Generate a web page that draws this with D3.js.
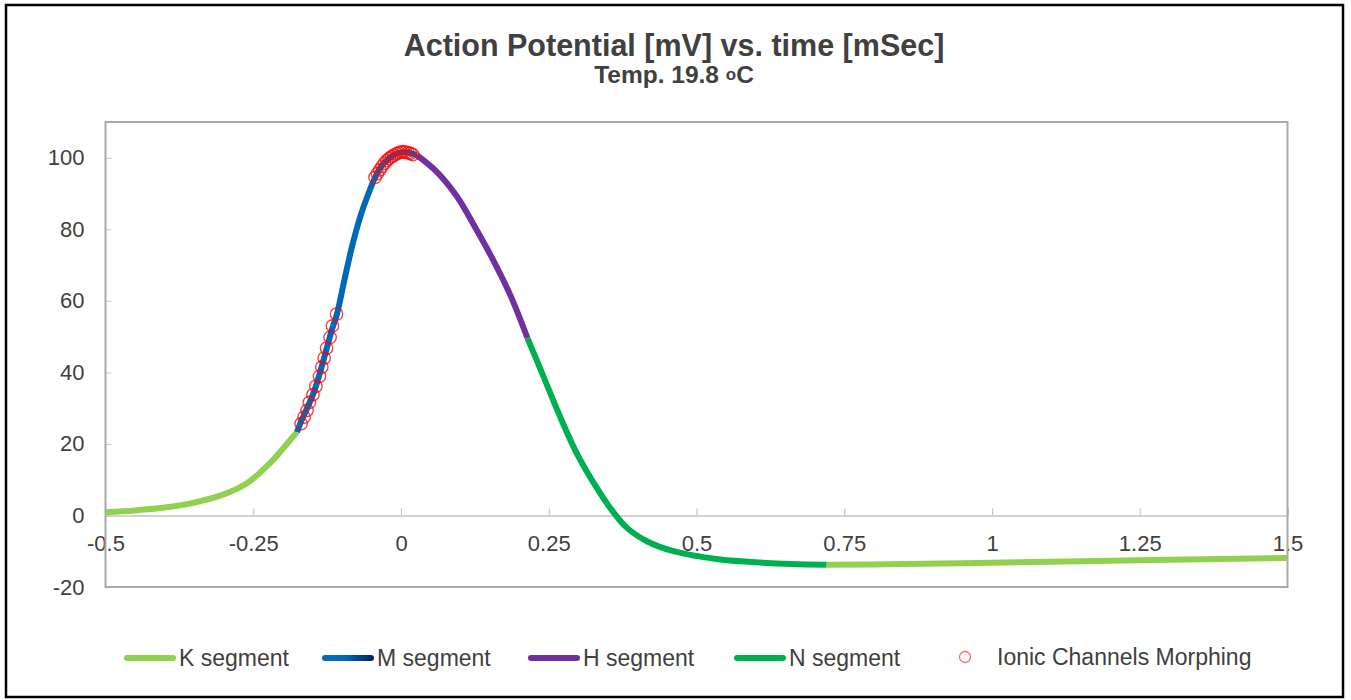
<!DOCTYPE html>
<html>
<head>
<meta charset="utf-8">
<script src="https://cdn.jsdelivr.net/npm/d3@7/dist/d3.min.js"></script>
<style>
  html, body { margin: 0; padding: 0; background: #ffffff; }
  svg { display: block; }
  text { font-family: "Liberation Sans", Arial, Helvetica, sans-serif; }
</style>
</head>
<body>
<svg id="chart" width="1351" height="700"></svg>
<script>
// Membrane potential trace, split into coloured segments (time in mSec, potential in mV)
const kRiseTime = [-0.5, -0.45, -0.40, -0.35, -0.30, -0.26, -0.22, -0.19, -0.176];
const kRiseVolt = [0.9, 1.4, 2.2, 3.6, 5.9, 9.1, 14.9, 20.6, 23.3];

const mRiseTime = [-0.176, -0.170, -0.148, -0.131, -0.117, -0.108, -0.097, -0.083, -0.069, -0.055, -0.0435, -0.0295, -0.0126, 0.004, 0.027];
const mRiseVolt = [23.3, 25.9, 34.2, 43.5, 51.9, 56.5, 64.9, 75.1, 83.5, 90.0, 94.6, 98.4, 100.7, 101.6, 100.7];

const hFallTime = [0.027, 0.061, 0.095, 0.128, 0.156, 0.185, 0.214];
const hFallVolt = [100.7, 96.0, 89.1, 79.8, 71.4, 61.6, 49.6];

const nFallTime = [0.214, 0.241, 0.269, 0.297, 0.326, 0.354, 0.382, 0.416, 0.461, 0.506, 0.540, 0.60, 0.66, 0.72];
const nFallVolt = [49.6, 38.9, 27.7, 17.5, 9.1, 2.1, -3.4, -7.2, -10.0, -11.5, -12.3, -13.1, -13.6, -13.8];

const kTailTime = [0.72, 0.85, 1.0, 1.15, 1.3, 1.5];
const kTailVolt = [-13.8, -13.6, -13.2, -12.8, -12.4, -11.9];

// Points where the ionic channels morph
const morphTime = [-0.169, -0.164, -0.159, -0.155, -0.149, -0.144, -0.138, -0.134, -0.130, -0.126, -0.120, -0.116, -0.109,
                   -0.044, -0.040, -0.036, -0.032, -0.028, -0.024, -0.020, -0.016, -0.012, -0.008, -0.004, 0.000, 0.004, 0.008, 0.012, 0.016, 0.020];
const morphVolt = [25.7, 27.5, 29.4, 31.6, 33.8, 36.1, 38.9, 41.5, 44.0, 46.8, 49.8, 53.0, 56.3,
                   94.5, 95.6, 96.6, 97.6, 98.5, 99.2, 99.8, 100.3, 100.7, 101.1, 101.4, 101.6, 101.7, 101.6, 101.4, 101.2, 100.9];

const xTicks = [-0.5, -0.25, 0, 0.25, 0.5, 0.75, 1, 1.25, 1.5];
const yTicks = [-20, 0, 20, 40, 60, 80, 100];

const segmentNames = ["K segment", "M segment", "H segment", "N segment"];
const morphName = "Ionic Channels Morphing";

const svg = d3.select("#chart");
const plot = { left: 105.5, right: 1287.5, top: 122, bottom: 587 };

const x = d3.scaleLinear().domain([-0.5, 1.5]).range([plot.left, plot.right]);
const y = d3.scaleLinear().domain([-20, 110]).range([plot.bottom, plot.top]);

// outer frame
svg.append("rect")
  .attr("x", 6).attr("y", 5).attr("width", 1337).attr("height", 692)
  .attr("fill", "#ffffff").attr("stroke", "#000000").attr("stroke-width", 2.5);

// titles
svg.append("text")
  .attr("x", 674).attr("y", 56)
  .attr("text-anchor", "middle")
  .attr("font-size", 30.5).attr("font-weight", "bold").attr("fill", "#404040")
  .text("Action Potential [mV] vs. time [mSec]");

const sub = svg.append("text")
  .attr("x", 674).attr("y", 83)
  .attr("text-anchor", "middle")
  .attr("font-size", 24.5).attr("font-weight", "bold").attr("fill", "#404040");
sub.append("tspan").text("Temp. 19.8 ");
sub.append("tspan").attr("font-size", 17).attr("dy", -3).text("o");
sub.append("tspan").attr("dy", 3).text("C");

// y axis (ticks inward, labels left)
const yAxis = d3.axisLeft(y).tickValues(yTicks).tickSize(-6).tickPadding(21).tickFormat(d => String(d));
const gy = svg.append("g").attr("transform", `translate(${plot.left},0)`).call(yAxis);
gy.select(".domain").remove();
gy.selectAll(".tick line").attr("stroke", "#d0d0d0").attr("stroke-width", 1.2);
gy.selectAll(".tick text").attr("font-size", 22).attr("fill", "#404040")
  .attr("font-family", "'Liberation Sans', Arial, sans-serif");

// x axis at 0 mV, ticks pointing up
const xAxis = d3.axisBottom(x).tickValues(xTicks).tickSize(-7).tickPadding(20)
  .tickFormat(d => String(d));
const gx = svg.append("g").attr("transform", `translate(0,${y(0)})`).call(xAxis);
gx.select(".domain").attr("stroke", "#c4c4c4").attr("stroke-width", 1.5);
gx.selectAll(".tick line").attr("stroke", "#c4c4c4").attr("stroke-width", 1.2);
gx.selectAll(".tick text").attr("font-size", 22).attr("fill", "#404040")
  .attr("font-family", "'Liberation Sans', Arial, sans-serif");

// plot area border
svg.append("rect")
  .attr("x", plot.left).attr("y", plot.top)
  .attr("width", plot.right - plot.left).attr("height", plot.bottom - plot.top)
  .attr("fill", "none").attr("stroke", "#a8a8a8").attr("stroke-width", 2);

// curve segments
const line = d3.line().x(d => x(d[0])).y(d => y(d[1])).curve(d3.curveCatmullRom.alpha(0.5));
const zip = (a, b) => a.map((t, i) => [t, b[i]]);

const segments = [
  { data: zip(kRiseTime, kRiseVolt), color: "#92d050" },
  { data: zip(kTailTime, kTailVolt), color: "#92d050" },
  { data: zip(nFallTime, nFallVolt), color: "#00b050" },
  { data: zip(hFallTime, hFallVolt), color: "#7030a0" },
  { data: zip(mRiseTime, mRiseVolt), color: "#0068b8" }
];
svg.append("g").selectAll("path").data(segments).join("path")
  .attr("d", d => line(d.data))
  .attr("fill", "none")
  .attr("stroke", d => d.color)
  .attr("stroke-width", 6)
  .attr("stroke-linecap", "butt");

// morphing markers
svg.append("g").selectAll("circle").data(zip(morphTime, morphVolt)).join("circle")
  .attr("cx", d => x(d[0])).attr("cy", d => y(d[1]))
  .attr("r", 6.2)
  .attr("fill", "none")
  .attr("stroke", "#ff0000")
  .attr("stroke-opacity", 0.75)
  .attr("stroke-width", 1.4);

// legend
const defs = svg.append("defs");
const grad = defs.append("linearGradient").attr("id", "mGrad")
  .attr("x1", "0%").attr("x2", "100%").attr("y1", "0%").attr("y2", "0%");
grad.append("stop").attr("offset", "0%").attr("stop-color", "#0070c0");
grad.append("stop").attr("offset", "45%").attr("stop-color", "#0068b8");
grad.append("stop").attr("offset", "100%").attr("stop-color", "#002060");

const legendY = 658;
const legendItems = [
  { name: segmentNames[0], x0: 124, color: "#92d050" },
  { name: segmentNames[1], x0: 322, color: "url(#mGrad)" },
  { name: segmentNames[2], x0: 528, color: "#7030a0" },
  { name: segmentNames[3], x0: 734, color: "#00b050" }
];
const lg = svg.append("g");
legendItems.forEach(it => {
  lg.append("rect")
    .attr("x", it.x0).attr("y", legendY - 3)
    .attr("width", 52).attr("height", 6).attr("rx", 3)
    .attr("fill", it.color);
  lg.append("text")
    .attr("x", it.x0 + 55).attr("y", legendY + 8)
    .attr("font-size", 23).attr("fill", "#404040")
    .text(it.name);
});
lg.append("circle")
  .attr("cx", 965).attr("cy", legendY - 1).attr("r", 5.5)
  .attr("fill", "none").attr("stroke", "#ff0000").attr("stroke-opacity", 0.6).attr("stroke-width", 1.3);
lg.append("text")
  .attr("x", 997).attr("y", legendY + 7)
  .attr("font-size", 23).attr("fill", "#404040")
  .text(morphName);
</script>
</body>
</html>
